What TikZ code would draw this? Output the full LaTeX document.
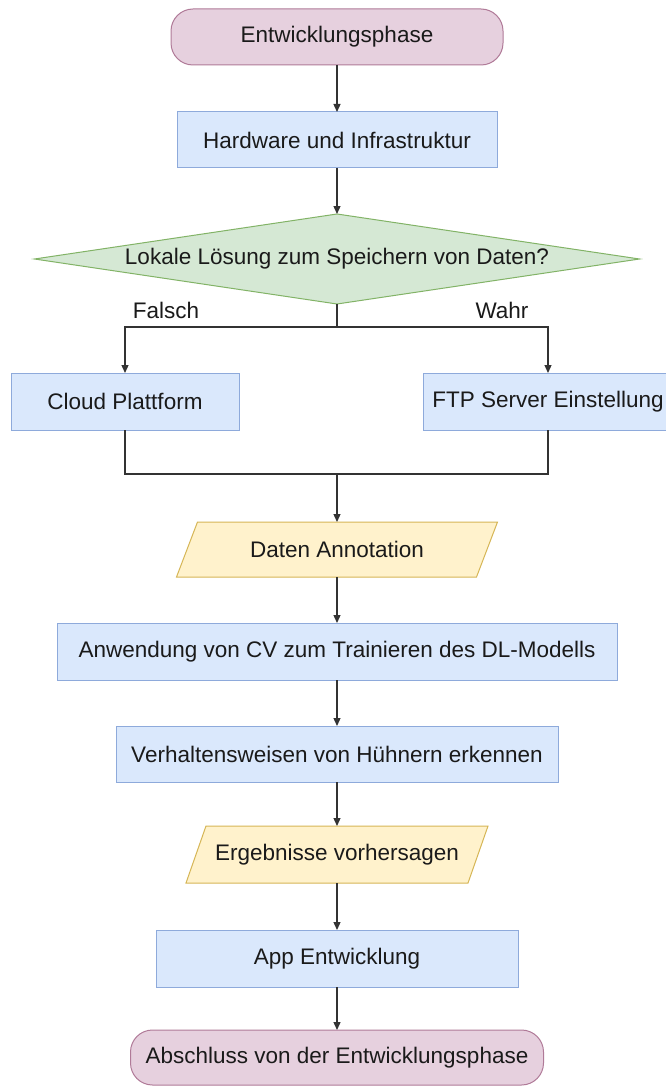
\documentclass[tikz,border=0pt]{standalone}
\usepackage{fontspec}
\setmainfont{Liberation Sans}
\usetikzlibrary{arrows.meta,shapes.geometric,backgrounds}

\definecolor{termfill}{HTML}{E6D0DE}
\definecolor{termline}{HTML}{B07A98}
\definecolor{procfill}{HTML}{DAE8FC}
\definecolor{procline}{HTML}{8EAADB}
\definecolor{decfill}{HTML}{D5E8D4}
\definecolor{decline}{HTML}{82B366}
\definecolor{iofill}{HTML}{FFF2CC}
\definecolor{ioline}{HTML}{D6B656}
\definecolor{edgecol}{HTML}{333333}
\definecolor{txt}{HTML}{1A1A1A}

\tikzset{
  base/.style={inner sep=0pt, outer sep=0pt, text=txt,
    font=\fontsize{22.5}{27}\selectfont},
  terminal/.style={base, rectangle, rounded corners=22pt, draw=termline,
    fill=termfill, line width=1pt},
  process/.style={base, rectangle, draw=procline, fill=procfill, line width=1pt},
  decision/.style={base, diamond, aspect=6.7, draw=decline, fill=decfill,
    line width=1pt, minimum width=605pt, minimum height=90pt},
  iobox/.style={base, rectangle},
  iopara/.style={draw=ioline, fill=iofill, line width=1pt},
  label/.style={base},
  flow/.style={draw=edgecol, line width=1.3pt,
    -{Triangle[length=8pt,width=7pt]}},
  wire/.style={draw=edgecol, line width=1.3pt}
}

\begin{document}
\begin{tikzpicture}[x=1pt,y=-1pt]
  \useasboundingbox (0,0) rectangle (666,1086);
  \clip (0,0) rectangle (666,1086);

  % main column
  \node[terminal, minimum width=332pt, minimum height=56pt] (start) at (337,37) {Entwicklungsphase};
  \node[process, minimum width=320pt, minimum height=56pt] (hw) at (337,140) {Hardware und Infrastruktur};
  \node[decision] (dec) at (337,259) {Lokale Lösung zum Speichern von Daten?};

  % branches
  \node[process, minimum width=228pt, minimum height=57pt] (cloud) at (125,401.5) {Cloud Plattform};
  \node[process, minimum width=250pt, minimum height=57pt] (ftp) at (548,401.5) {FTP Server Einstellung};
  \node[label] (lblF) at (166,310) {Falsch};
  \node[label] (lblT) at (502,310) {Wahr};
  \coordinate (split) at (337,327);
  \coordinate (merge) at (337,474);

  % data and model steps
  \node[iobox, minimum width=300pt, minimum height=55pt] (ann) at (337,549.5) {Daten Annotation};
  \node[process, minimum width=560pt, minimum height=57pt] (cv) at (337,651.5) {Anwendung von CV zum Trainieren des DL-Modells};
  \node[process, minimum width=442pt, minimum height=56pt] (beh) at (337,754) {Verhaltensweisen von Hühnern erkennen};
  \node[iobox, minimum width=282pt, minimum height=57pt] (res) at (337,854.5) {Ergebnisse vorhersagen};
  \node[process, minimum width=362pt, minimum height=57pt] (app) at (337,958.5) {App Entwicklung};
  \node[terminal, minimum width=413pt, minimum height=55pt] (end) at (337,1057.5) {Abschluss von der Entwicklungsphase};

  % white page and slanted input/output shapes behind everything
  \begin{scope}[on background layer]
    \fill[white] (0,0) rectangle (666,1086);
    \path[iopara] ([xshift=10.5pt]ann.north west) -- ([xshift=10.5pt]ann.north east)
      -- ([xshift=-10.5pt]ann.south east) -- ([xshift=-10.5pt]ann.south west) -- cycle;
    \path[iopara] ([xshift=10pt]res.north west) -- ([xshift=10pt]res.north east)
      -- ([xshift=-10pt]res.south east) -- ([xshift=-10pt]res.south west) -- cycle;
  \end{scope}

  % connectors
  \draw[flow] (start) -- (hw);
  \draw[flow] (hw) -- (dec);
  \draw[wire] (dec.south) -- (split);
  \draw[flow] (split) -| (cloud.north);
  \draw[flow] (split) -| (ftp.north);
  \draw[wire] (cloud.south) |- (merge);
  \draw[wire] (ftp.south) |- (merge);
  \draw[flow] (merge) -- (ann.north);
  \draw[flow] (ann) -- (cv);
  \draw[flow] (cv) -- (beh);
  \draw[flow] (beh) -- (res);
  \draw[flow] (res) -- (app);
  \draw[flow] (app) -- (end);
\end{tikzpicture}
\end{document}
